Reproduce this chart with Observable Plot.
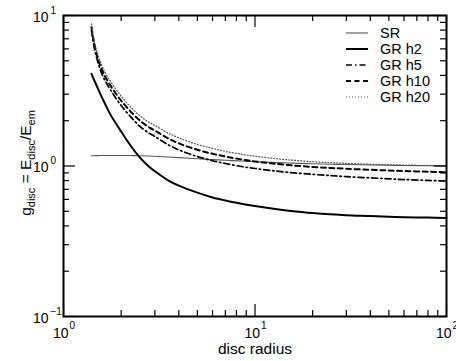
<!DOCTYPE html>
<html>
<head>
<meta charset="utf-8">
<script src="https://cdn.jsdelivr.net/npm/d3@7"></script>
<script src="https://cdn.jsdelivr.net/npm/@observablehq/plot@0.6"></script>
<style>
  html, body { margin: 0; padding: 0; background: #fff; overflow: hidden; }
  #chart { width: 456px; height: 361px; }
</style>
</head>
<body>
<div id="chart"></div>
<script>
// ---- data ----
const radius = [1.4, 1.45, 1.5, 1.56, 1.65, 1.75, 1.9, 2.0, 2.2, 2.5, 2.8, 3.0, 3.5, 4.0, 5.0, 6.0, 7.0, 8.5, 10, 12, 15, 20, 25, 30, 40, 50, 60, 80, 100];
const gSR  = [1.17, 1.171, 1.172, 1.173, 1.174, 1.175, 1.175, 1.175, 1.174, 1.17, 1.165, 1.16, 1.148, 1.137, 1.118, 1.103, 1.092, 1.079, 1.068, 1.057, 1.046, 1.035, 1.028, 1.023, 1.016, 1.011, 1.008, 1.003, 1.0];
const gH2  = [4.10, 3.69, 3.35, 2.99, 2.58, 2.22, 1.873, 1.695, 1.411, 1.142, 0.989, 0.922, 0.807, 0.741, 0.665, 0.618, 0.590, 0.562, 0.542, 0.523, 0.505, 0.487, 0.478, 0.471, 0.465, 0.460, 0.457, 0.454, 0.452];
const gH5  = [7.95, 6.05, 5.07, 4.32, 3.68, 3.24, 2.76, 2.52, 2.18, 1.84, 1.65, 1.57, 1.39, 1.28, 1.156, 1.084, 1.039, 0.992, 0.962, 0.935, 0.907, 0.880, 0.863, 0.850, 0.834, 0.822, 0.813, 0.802, 0.794];
const gH10 = [8.36, 6.39, 5.36, 4.60, 3.93, 3.46, 2.96, 2.72, 2.36, 2.01, 1.805, 1.72, 1.53, 1.413, 1.281, 1.205, 1.156, 1.106, 1.073, 1.044, 1.014, 0.986, 0.970, 0.958, 0.944, 0.934, 0.926, 0.917, 0.909];
const gH20 = [8.81, 6.75, 5.69, 4.89, 4.18, 3.69, 3.17, 2.91, 2.53, 2.16, 1.95, 1.86, 1.66, 1.54, 1.39, 1.31, 1.25, 1.198, 1.162, 1.130, 1.098, 1.068, 1.052, 1.041, 1.028, 1.020, 1.015, 1.009, 1.006];

const seriesNames = ["SR", "GR h2", "GR h5", "GR h10", "GR h20"];

// ticks and tick labels
const xMajor = [1, 10, 100];
const xExp = ["0", "1", "2"];
const xMinor = [2, 3, 4, 5, 6, 7, 8, 9, 20, 30, 40, 50, 60, 70, 80, 90];
const yMajor = [0.1, 1, 10];
const yExp = ["\u22121", "0", "1"];
const yMinor = [0.2, 0.3, 0.4, 0.5, 0.6, 0.7, 0.8, 0.9, 2, 3, 4, 5, 6, 7, 8, 9];
const xTitle = "disc radius";

// ---- layout / styles ----
const W = 456, H = 361, mL = 63, mR = 10, mT = 15, mB = 45;
const innerW = W - mL - mR, innerH = H - mT - mB;
const FONT = "'Liberation Sans', Arial, Helvetica, sans-serif";

const styles = {
  "SR":     {stroke: "#555", strokeWidth: 1.1, dash: null},
  "GR h2":  {stroke: "#000", strokeWidth: 2, dash: null},
  "GR h5":  {stroke: "#000", strokeWidth: 1.7, dash: "6,3,1.5,3"},
  "GR h10": {stroke: "#000", strokeWidth: 2, dash: "5,3.5"},
  "GR h20": {stroke: "#555", strokeWidth: 1.2, dash: "1,2"}
};

const valuesBy = {"SR": gSR, "GR h2": gH2, "GR h5": gH5, "GR h10": gH10, "GR h20": gH20};
const rowsFor = name => radius.map((r, i) => ({r, g: valuesBy[name][i]}));

const lineMarks = seriesNames.map(name => Plot.line(rowsFor(name), {
  x: "r", y: "g",
  stroke: styles[name].stroke,
  strokeWidth: styles[name].strokeWidth,
  strokeDasharray: styles[name].dash,
  curve: "catmull-rom"
}));

const xMajorRows = xMajor.map((v, i) => ({v, e: xExp[i]}));
const yMajorRows = yMajor.map((v, i) => ({v, e: yExp[i]}));

const chart = Plot.plot({
  width: W, height: H,
  marginLeft: mL, marginRight: mR, marginTop: mT, marginBottom: mB,
  x: {type: "log", domain: [1, 100], axis: null},
  y: {type: "log", domain: [0.1, 10], axis: null},
  style: {fontFamily: FONT, background: "#fff", color: "#000", overflow: "visible"},
  marks: [
    ...lineMarks,
    // bottom ticks (inward)
    Plot.tickX(xMinor, {x: d => d, insetTop: innerH - 6, strokeWidth: 1.2}),
    Plot.tickX(xMajor, {x: d => d, insetTop: innerH - 12, strokeWidth: 1.2}),
    // top ticks
    Plot.tickX(xMinor, {x: d => d, insetBottom: innerH - 6, strokeWidth: 1.2}),
    Plot.tickX(xMajor, {x: d => d, insetBottom: innerH - 12, strokeWidth: 1.2}),
    // left ticks
    Plot.tickY(yMinor, {y: d => d, insetRight: innerW - 6, strokeWidth: 1.2}),
    Plot.tickY(yMajor, {y: d => d, insetRight: innerW - 12, strokeWidth: 1.2}),
    // right ticks
    Plot.tickY(yMinor, {y: d => d, insetLeft: innerW - 6, strokeWidth: 1.2}),
    Plot.tickY(yMajor, {y: d => d, insetLeft: innerW - 12, strokeWidth: 1.2}),
    Plot.frame({stroke: "#000", strokeWidth: 2}),
    // x tick labels
    Plot.text(xMajorRows, {x: "v", frameAnchor: "bottom", text: () => "10", textAnchor: "end",
      dx: 5, dy: 17.5, fontSize: 14, lineAnchor: "middle", fill: "#000"}),
    Plot.text(xMajorRows, {x: "v", frameAnchor: "bottom", text: "e", textAnchor: "start",
      dx: 6, dy: 9, fontSize: 10, lineAnchor: "middle", fill: "#000"}),
    // y tick labels
    Plot.text(yMajorRows, {y: "v", frameAnchor: "left", text: () => "10", textAnchor: "end",
      dx: -15, dy: 2, fontSize: 14, lineAnchor: "middle", fill: "#000"}),
    Plot.text(yMajorRows, {y: "v", frameAnchor: "left", text: "e", textAnchor: "start",
      dx: -13, dy: -5, fontSize: 10, lineAnchor: "middle", fill: "#000"}),
    // x axis title
    Plot.text([xTitle], {frameAnchor: "bottom", text: d => d, dy: 33, fontSize: 15.5,
      lineAnchor: "middle", fill: "#000"})
  ]
});

document.getElementById("chart").appendChild(chart);

// ---- y-axis title with subscripts ----
const svg = d3.select(chart);
const yt = svg.append("text")
  .attr("transform", "translate(31,163) rotate(-90)")
  .attr("text-anchor", "middle")
  .attr("font-family", FONT)
  .attr("font-size", 15.5)
  .attr("fill", "#000");
const parts = [["g", 0, 15.5], ["disc", 4, 11], [" = E", -4, 15.5], ["disc", 4, 11], ["/E", -4, 15.5], ["em", 4, 11]];
parts.forEach(([t, dy, fs]) => yt.append("tspan").attr("dy", dy).attr("font-size", fs).text(t));

// ---- legend (top right, inside the frame) ----
const leg = svg.append("g").attr("font-family", FONT).attr("font-size", 14.5).attr("text-anchor", "start");
seriesNames.forEach((name, i) => {
  const cy = 33 + i * 16;
  const s = styles[name];
  leg.append("line")
    .attr("x1", 346).attr("x2", 368).attr("y1", cy).attr("y2", cy)
    .attr("stroke", s.stroke).attr("stroke-width", s.strokeWidth)
    .attr("stroke-dasharray", s.dash);
  leg.append("text").attr("x", 380).attr("y", cy + 5).attr("fill", "#000")
    .attr("text-anchor", "start").text(name);
});
</script>
</body>
</html>
